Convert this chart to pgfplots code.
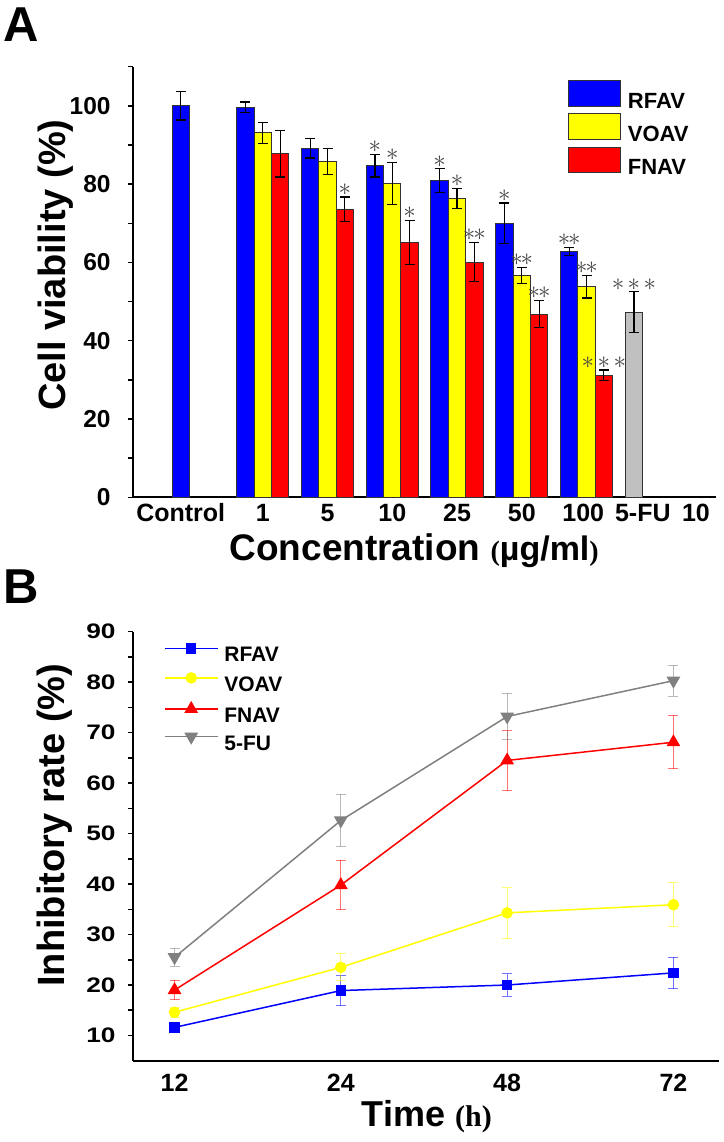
\documentclass[border=0pt]{standalone}
\usepackage{fontspec}
\setmainfont{Liberation Sans}
\newfontfamily\serifbf{Liberation Serif}
\usepackage{pgfplots}
\pgfplotsset{compat=1.18}
\usepackage{pgfplotstable}

\definecolor{cblue}{HTML}{0000FF}
\definecolor{cyellow}{HTML}{FFFF00}
\definecolor{cred}{HTML}{FF0000}
\definecolor{cgray}{HTML}{C0C0C0}
\definecolor{lgray}{HTML}{808080}
\definecolor{lyellow}{HTML}{FFFF00}
\definecolor{stargray}{HTML}{444444}

\newcommand\stars[1]{\ifcase#1\or$\ast$\or$\ast\mkern-1.5mu\ast$\or$\ast\mkern-1.5mu\ast\mkern-1.5mu\ast$\fi}

\pgfplotsset{
  ebarA/.style={error bars/.cd, y dir=both, y explicit,
    error bar style={line width=1.2pt, black},
    error mark options={rotate=90, mark size=5pt, line width=1.2pt, black}},
  ebarB/.style={error bars/.cd, y dir=both, y explicit,
    error bar style={line width=1pt, opacity=0.55},
    error mark options={rotate=90, mark size=5pt, line width=1pt, opacity=0.55}},
  barA/.style={ybar, bar width=0.268, bar shift=0, draw=black!80, line width=1pt},
  sigstyle/.style={draw=none, mark=none, forget plot,
   nodes near coords={\stars{\pgfplotspointmeta}}, point meta=explicit symbolic,
   every node near coord/.append style={anchor=south, inner sep=1.5pt, text=stargray, font=\fontsize{26}{26}\selectfont}},
}

% Panel A: cell viability (x = group index: 0 Control, 1..6 = 1,5,10,25,50,100, 7 = 5-FU)
\pgfplotstableread{
x y e
0 100.0 3.6
1 99.6 1.4
2 89.2 2.5
3 84.7 2.9
4 80.9 3.0
5 70.0 5.2
6 62.8 1.0
}\tblRFAV
\pgfplotstableread{
x y e
1 93.1 2.7
2 85.8 3.3
3 80.1 5.4
4 76.3 2.6
5 56.7 2.1
6 53.8 2.9
}\tblVOAV
\pgfplotstableread{
x y e
1 87.8 6.0
2 73.6 3.1
3 65.1 5.7
4 60.1 5.0
5 46.8 3.5
6 31.2 1.3
}\tblFNAV
\pgfplotstableread{
x y e
7 47.3 5.2
}\tblFU
% significance marks: x, top of error bar, number of stars
\pgfplotstableread{
x t s
3 87.6 1
4 83.9 1
5 75.2 1
6 63.8 2
}\sigRFAV
\pgfplotstableread{
x t s
3 85.5 1
4 78.9 1
5 58.8 2
6 56.7 2
}\sigVOAV
\pgfplotstableread{
x t s
2 76.7 1
3 70.8 1
4 65.1 2
5 50.3 2
6 32.5 3
}\sigFNAV
\pgfplotstableread{
x t s
7 52.5 3
}\sigFU

% Panel B: inhibitory rate (x = 0..3 for 12, 24, 48, 72 h)
\pgfplotstableread{
x y e
0 11.6 0.9
1 18.9 3.0
2 20.0 2.2
3 22.4 3.1
}\inRFAV
\pgfplotstableread{
x y e
0 14.6 1.0
1 23.5 2.7
2 34.3 5.1
3 35.9 4.4
}\inVOAV
\pgfplotstableread{
x y e
0 19.0 1.9
1 39.8 4.9
2 64.5 6.0
3 68.1 5.3
}\inFNAV
\pgfplotstableread{
x y e
0 25.5 1.8
1 52.6 5.2
2 73.2 4.6
3 80.3 3.1
}\inFU

\begin{document}
\begin{tikzpicture}
\path[use as bounding box] (0,0) rectangle (723pt,-1142pt);

\node[anchor=north west, inner sep=0pt, font=\fontsize{49}{49}\selectfont\bfseries] at (3pt,-8pt) {A};
\node[anchor=north west, inner sep=0pt, font=\fontsize{49}{49}\selectfont\bfseries] at (3pt,-570pt) {B};

\begin{axis}[
  at={(133.3pt,-497.3pt)}, anchor=south west,
  scale only axis, width=582.7pt, height=430.6pt,
  xmin=-1, xmax=8, ymin=0, ymax=110,
  axis x line*=bottom, axis y line*=left,
  axis line style={line width=1.8pt},
  clip=false,
  ytick={0,20,...,100}, minor ytick={10,30,...,110},
  tick align=outside, major tick length=5pt, minor tick length=5pt,
  major tick style={line width=1.5pt, black},
  minor tick style={line width=1.5pt, black},
  xtick={-0.268,1,2,3,4,5,5.95,6.87,7.69},
  xticklabels={Control,1,5,10,25,50,100,5-FU,10},
  xtick style={draw=none},
  /pgf/number format/assume math mode=true,
  xticklabel style={anchor=base, yshift=-19pt, font=\fontsize{25}{25}\selectfont\bfseries},
  yticklabel shift=17.5pt,
  yticklabel style={anchor=east, inner sep=0pt, font=\fontsize{24.5}{24.5}\selectfont\bfseries},
  ylabel={Cell viability (\%)},
  ylabel style={at={(axis description cs:-0.134,0.539)}, anchor=center, font=\fontsize{38}{38}\selectfont\bfseries},
  xlabel={Concentration {\fontsize{34}{34}\selectfont{\serifbf\fontsize{28}{28}\selectfont(}µg/ml{\serifbf\fontsize{28}{28}\selectfont)}}},
  xlabel style={at={(axis description cs:0.482,-0.1456)}, anchor=base, font=\fontsize{37}{37}\selectfont\bfseries},
  legend style={at={(axis description cs:0.7465,0.969)}, anchor=north west, draw=none, fill=none,
    inner sep=0pt, row sep=3.8pt, column sep=6.7pt,
    font=\fontsize{22}{22}\selectfont\bfseries, nodes={inner sep=0pt}},
  legend cell align=left,
  legend image code/.code={\draw[#1] (0pt,-5pt) rectangle (51.7pt,20.5pt);},
]
\addplot[barA, fill=cblue, ebarA]
  table[x expr=\thisrow{x}-0.268, y=y, y error=e] {\tblRFAV};
\addlegendentry{RFAV}
\addplot[barA, fill=cyellow, ebarA]
  table[x=x, y=y, y error=e] {\tblVOAV};
\addlegendentry{VOAV}
\addplot[barA, fill=cred, ebarA]
  table[x expr=\thisrow{x}+0.268, y=y, y error=e] {\tblFNAV};
\addlegendentry{FNAV}
\addplot[barA, fill=cgray, forget plot, ebarA]
  table[x expr=\thisrow{x}-0.268, y=y, y error=e] {\tblFU};

\addplot[sigstyle] table[x expr=\thisrow{x}-0.268, y=t, meta=s] {\sigRFAV};
\addplot[sigstyle] table[x=x, y=t, meta=s] {\sigVOAV};
\addplot[sigstyle] table[x expr=\thisrow{x}+0.268, y=t, meta=s] {\sigFNAV};
\addplot[sigstyle] table[x expr=\thisrow{x}-0.268, y=t, meta=s] {\sigFU};
\end{axis}

\begin{axis}[
  at={(133.3pt,-1060.7pt)}, anchor=south west,
  scale only axis, width=585.7pt, height=429pt,
  xmin=-0.248, xmax=3.274, ymin=5, ymax=90,
  axis x line*=bottom, axis y line*=left,
  axis line style={line width=1.8pt},
  clip=false,
  ytick={10,20,...,90}, minor ytick={15,25,...,85},
  tick align=outside, major tick length=5pt, minor tick length=5pt,
  major tick style={line width=1.5pt, black},
  minor tick style={line width=1.5pt, black},
  xtick={0,1,2,3}, xticklabels={12,24,48,72},
  xtick style={draw=none},
  /pgf/number format/assume math mode=true,
  xticklabel style={anchor=base, yshift=-26pt, font=\fontsize{25}{25}\selectfont\bfseries},
  yticklabel shift=12.5pt,
  yticklabel style={anchor=east, inner sep=0pt, font=\fontsize{21}{21}\selectfont\bfseries},
  yticklabel={\scalebox{1.25}[1]{\pgfmathprintnumber{\tick}}},
  ylabel={Inhibitory rate (\%)},
  ylabel style={at={(axis description cs:-0.134,0.549)}, anchor=center, font=\fontsize{38}{38}\selectfont\bfseries},
  xlabel={Time {\serifbf\fontsize{30}{30}\selectfont(h)}},
  xlabel style={at={(axis description cs:0.501,-0.1545)}, anchor=base, font=\fontsize{36}{36}\selectfont\bfseries},
  legend style={at={(axis description cs:0.0524,0.972)}, anchor=north west, draw=none, fill=none,
    inner sep=0pt, row sep=9.5pt, column sep=6pt,
    font=\fontsize{21}{21}\selectfont\bfseries, nodes={inner sep=0pt}},
  legend cell align=left,
  legend image code/.code={\draw[mark repeat=2, mark phase=2, #1] plot coordinates {(0pt,7pt) (26.3pt,7pt) (52.7pt,7pt)};},
  every axis plot/.append style={line width=1.5pt},
]
\addplot[color=cblue, mark=square*, mark size=4.5pt, ebarB] table[x=x, y=y, y error=e] {\inRFAV};
\addlegendentry{RFAV}
\addplot[color=lyellow, mark=*, mark size=5pt, ebarB] table[x=x, y=y, y error=e] {\inVOAV};
\addlegendentry{VOAV}
\addplot[color=cred, mark=triangle*, mark size=6.5pt, ebarB] table[x=x, y=y, y error=e] {\inFNAV};
\addlegendentry{FNAV}
\addplot[color=lgray, mark=triangle*, mark size=6.5pt, mark options={rotate=180}, ebarB] table[x=x, y=y, y error=e] {\inFU};
\addlegendentry{5-FU}
\end{axis}
\end{tikzpicture}
\end{document}
